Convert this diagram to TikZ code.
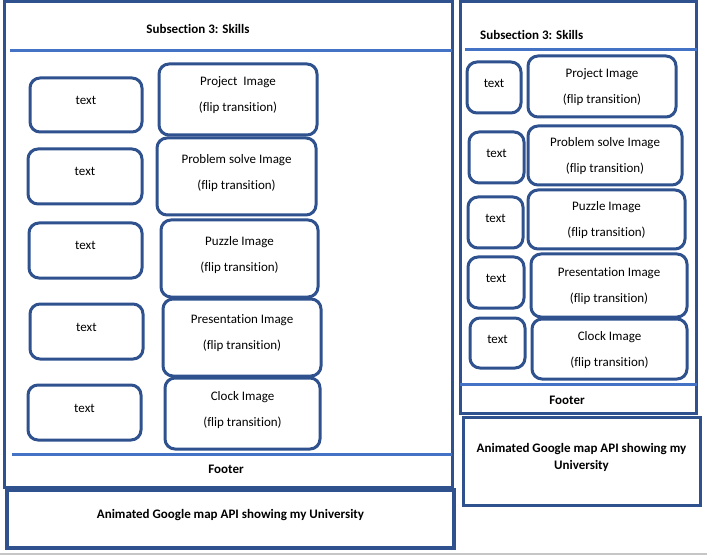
\documentclass[tikz,border=0pt]{standalone}
\usepackage{fontspec}
\setmainfont[Ligatures=NoCommon]{Carlito}
\definecolor{frameblue}{HTML}{2F528F}
\definecolor{lineblue}{HTML}{4472C4}
\begin{document}
\begin{tikzpicture}[x=1pt,y=-1pt,
  base/.style={draw=frameblue,line width=3pt,rounded corners=10pt,inner sep=0pt},
  tbox/.style={base,font=\fontsize{13}{26}\selectfont,text height=8pt,text depth=9pt},
  ibox/.style={base,align=center,font=\fontsize{13}{26}\selectfont,text depth=10pt},
  rtbox/.style={base,font=\fontsize{13}{26}\selectfont,text height=8pt,text depth=8pt},
  ribox/.style={base,align=center,font=\fontsize{13}{26}\selectfont,text depth=1pt},
  frame/.style={draw=frameblue,line width=3pt},
  sep/.style={draw=lineblue,line width=3pt},
  bold/.style={font=\fontsize{13}{17}\selectfont\bfseries,inner sep=0pt}]
\useasboundingbox (0,0) rectangle (707,556);
\fill[white] (0,0) rectangle (707,556);
% bottom grey rule
\coordinate (g1) at (0,554);
\coordinate (g2) at (707,554);
\draw[gray!45,line width=1.5pt] (g1) -- (g2);

% ===== left layout =====
\node[frame,minimum width=448pt,minimum height=485pt] (lframe) at (228,244.5) {};
\coordinate (ls1) at (10,51);
\coordinate (ls2) at (452,51);
\draw[sep] (ls1) -- (ls2);
\coordinate (lf1) at (12,454);
\coordinate (lf2) at (452,454);
\draw[sep] (lf1) -- (lf2);
\node[bold] (lhead) at (198,29) {Subsection 3: Skills};
\node[bold] (lfoot) at (226,469) {Footer};
\node[draw=frameblue,line width=3.5pt,minimum width=447pt,minimum height=58pt,bold] (lmap) at (230.5,519) {\raisebox{1.5ex}{Animated Google map API showing my University}};

\node[tbox,minimum width=112pt,minimum height=54pt] (lt1) at (86,105) {text};
\node[tbox,minimum width=114pt,minimum height=55pt] (lt2) at (85,176.5) {text};
\node[tbox,minimum width=113pt,minimum height=55pt] (lt3) at (85.5,250.5) {text};
\node[tbox,minimum width=113pt,minimum height=55pt] (lt4) at (86.5,331.5) {text};
\node[tbox,minimum width=113pt,minimum height=55pt] (lt5) at (84.5,412.5) {text};

\node[ibox,minimum width=158pt,minimum height=71pt] (li1) at (238,99.5) {Project\ \ Image\\(flip transition)};
\node[ibox,minimum width=159pt,minimum height=77pt] (li2) at (236.5,176.5) {Problem solve Image\\(flip transition)};
\node[ibox,minimum width=157pt,minimum height=77pt] (li3) at (239.5,258.5) {Puzzle Image\\(flip transition)};
\node[ibox,minimum width=158pt,minimum height=77pt] (li4) at (242,337.5) {Presentation Image\\(flip transition)};
\node[ibox,minimum width=155pt,minimum height=71pt] (li5) at (242.5,413.5) {Clock Image\\(flip transition)};

% ===== right layout =====
\node[frame,minimum width=236pt,minimum height=411pt] (rframe) at (578,207.5) {};
\coordinate (rs1) at (465,50);
\coordinate (rs2) at (697,50);
\draw[sep] (rs1) -- (rs2);
\coordinate (rf1) at (460,384);
\coordinate (rf2) at (697,384);
\draw[sep] (rf1) -- (rf2);
\node[bold,anchor=west] (rhead) at (480,35) {Subsection 3: Skills};
\node[bold] (rfoot) at (567,400) {Footer};
\node[draw=frameblue,line width=3pt,minimum width=237pt,minimum height=88pt,bold,align=center,text depth=10pt] (rmap) at (581.5,461) {Animated Google map API showing my\\[0pt]University};

\node[rtbox,minimum width=54pt,minimum height=51pt] (rt1) at (494,87.5) {text};
\node[rtbox,minimum width=55pt,minimum height=51pt] (rt2) at (496.5,157.5) {text};
\node[rtbox,minimum width=55pt,minimum height=51pt] (rt3) at (495.5,222.5) {text};
\node[rtbox,minimum width=56pt,minimum height=51pt] (rt4) at (496,282.5) {text};
\node[rtbox,minimum width=55pt,minimum height=50pt] (rt5) at (497.5,343) {text};

\node[ribox,minimum width=148pt,minimum height=61pt] (ri1) at (602,86.5) {Project Image\\(flip transition)};
\node[ribox,minimum width=154pt,minimum height=59pt] (ri2) at (605,155.5) {Problem solve Image\\(flip transition)};
\node[ribox,minimum width=157pt,minimum height=59pt] (ri3) at (606.5,219.5) {Puzzle Image\\(flip transition)};
\node[ribox,minimum width=156pt,minimum height=63pt] (ri4) at (609,285.5) {Presentation Image\\(flip transition)};
\node[ribox,minimum width=155pt,minimum height=60pt] (ri5) at (609.5,349) {Clock Image\\(flip transition)};
\end{tikzpicture}
\end{document}
